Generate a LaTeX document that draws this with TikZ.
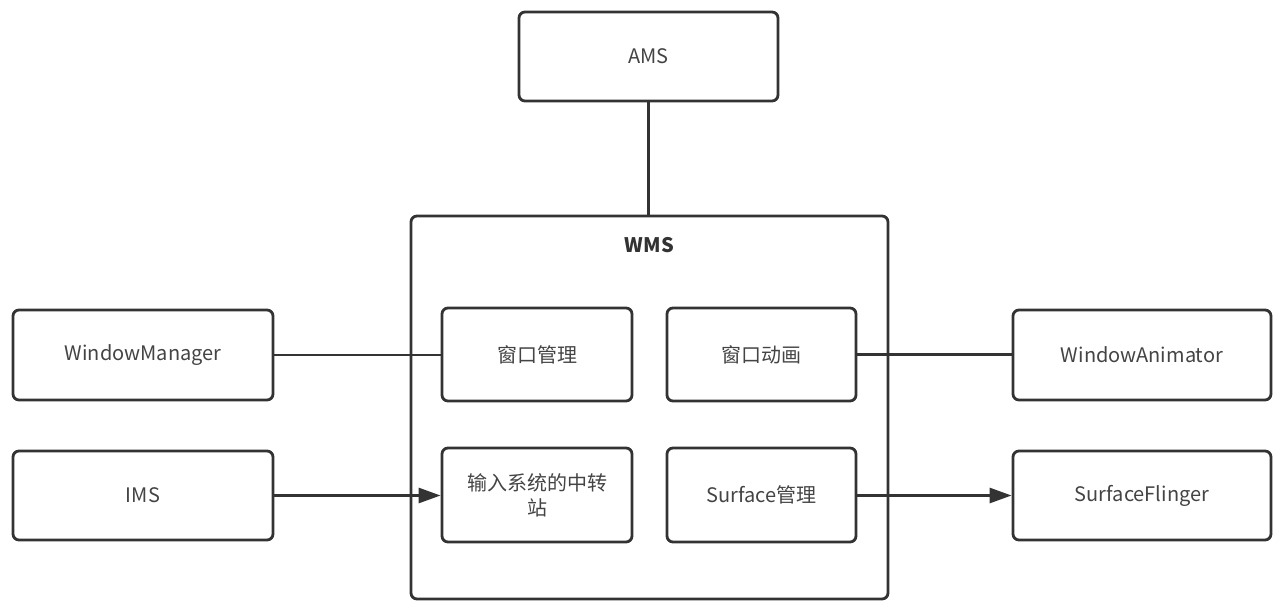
\documentclass[tikz,border=0pt]{standalone}
\usepackage{fontspec}
\setmainfont{Noto Sans CJK SC}
\usetikzlibrary{arrows.meta}
\definecolor{linec}{HTML}{333333}
\definecolor{textc}{HTML}{444444}
\tikzset{
  box/.style={draw=linec, line width=2.8pt, rounded corners=6pt, fill=white,
    text=textc, font=\fontsize{20}{25}\selectfont, align=center, inner sep=0pt},
  conn/.style={draw=linec, line width=2.8pt},
  arr/.style={conn, -{Triangle[length=22pt,width=15pt]}}
}
\begin{document}
\begin{tikzpicture}[x=1pt,y=-1pt]
\useasboundingbox (0,0) rectangle (1280,608);
\node[box, minimum width=477pt, minimum height=383pt] (wms) at (649.5,407.5) {};
\node[text=linec, font=\fontsize{20}{25}\selectfont\bfseries] (wmsl) at (649.5,245) {WMS};
\node[box, minimum width=259pt, minimum height=89pt] (ams) at (648.5,56.5) {AMS};
\node[box, minimum width=260pt, minimum height=90pt] (wm) at (143,355) {WindowManager};
\node[box, minimum width=260pt, minimum height=89pt] (ims) at (143,495.5) {IMS};
\node[box, minimum width=190pt, minimum height=93pt] (wg) at (537,354.5) {窗口管理};
\node[box, minimum width=189pt, minimum height=93pt] (wd) at (761.5,354.5) {窗口动画};
\node[box, minimum width=190pt, minimum height=94pt] (inp) at (537,495) {输入系统的中转\\站};
\node[box, minimum width=189pt, minimum height=94pt] (sg) at (761.5,495) {Surface管理};
\node[box, minimum width=258pt, minimum height=90pt] (wa) at (1142,355) {WindowAnimator};
\node[box, minimum width=258pt, minimum height=89pt] (sf) at (1142,495.5) {SurfaceFlinger};
\draw[conn] (ams.south) -- (wms.north -| ams.south);
\draw[conn] (wm.east) -- (wm.east -| wg.west);
\draw[conn] (wd.east) -- (wd.east -| wa.west);
\draw[arr] (ims.east) -- (ims.east -| inp.west);
\draw[arr] (sg.east |- sf.west) -- (sf.west);
\end{tikzpicture}
\end{document}
